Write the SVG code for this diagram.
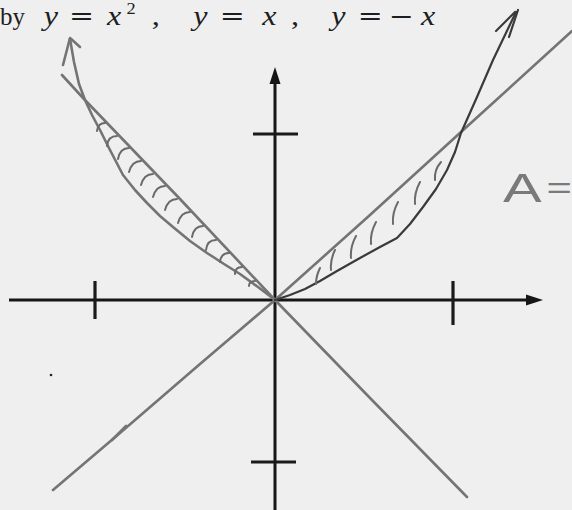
<svg xmlns="http://www.w3.org/2000/svg" width="572" height="510" viewBox="0 0 572 510">
  <style>
    .title { font-family: "Liberation Serif", "Times New Roman", serif; font-size: 28px; fill: #1e1e1e; }
    .by { font-family: "Liberation Serif", "Times New Roman", serif; font-size: 25px; fill: #1e1e1e; }
    .it { font-style: italic; }
    .op { font-family: "DejaVu Serif", serif; font-size: 26px; }
    .axis { stroke: #161616; stroke-width: 3; fill: none; stroke-linecap: butt; }
    .tick { stroke: #1a1a1a; stroke-width: 3.2; fill: none; }
    .curve { stroke: #747474; stroke-width: 2.6; fill: none; stroke-linecap: round; stroke-linejoin: round; }
    .dark { stroke: #3a3a3a; stroke-width: 2.2; }
    .hatch { stroke: #6a6a6a; stroke-width: 2; fill: none; stroke-linecap: round; }
    .hand { font-family: "Liberation Sans", Arial, sans-serif; font-size: 40px; fill: #7a7a7a; }
  </style>
  <rect x="0" y="0" width="572" height="510" fill="#efefef"/>

  <g id="title">
    <text class="by" x="0" y="25">by</text>
    <text class="title" transform="translate(0,25) scale(1.15,1)"><tspan class="it" x="38">y</tspan><tspan class="op" x="60">=</tspan><tspan class="it" x="93">x</tspan><tspan x="110" y="-11" font-size="16">2</tspan><tspan x="132" y="0">,</tspan><tspan class="it" x="168">y</tspan><tspan class="op" x="191">=</tspan><tspan class="it" x="228">x</tspan><tspan x="253">,</tspan><tspan class="it" x="288">y</tspan><tspan class="op" x="311">=</tspan><tspan class="op" x="338">−</tspan><tspan class="it" x="366">x</tspan></text>
  </g>

  <g id="axes">
    <line class="axis" x1="9" y1="300" x2="530" y2="300"/>
    <polygon points="543,300 526,294.5 526,305.5" fill="#161616"/>
    <line class="axis" x1="275" y1="80" x2="275" y2="510"/>
    <polygon points="275,67 269.5,84 280.5,84" fill="#161616"/>
    <line class="tick" x1="95" y1="281" x2="95" y2="319"/>
    <line class="tick" x1="453" y1="281" x2="453" y2="325"/>
    <line class="tick" x1="253" y1="134" x2="298" y2="134"/>
    <line class="tick" x1="251" y1="462" x2="296" y2="462"/>
  </g>

  <g id="connectors">
    <!-- y = x -->
    <polyline id="line-y-eq-x" class="curve" points="53,490 120,433 200,364 275,300 370,215 461,132 572,31"/>
    <path class="curve" d="M112,440 L126,426" stroke-width="1.8"/>
    <!-- y = -x -->
    <polyline id="line-y-eq-neg-x" class="curve" points="62,75 84,99 180,199 275,300 370,398 467,497"/>
    <!-- y = x^2 left branch -->
    <polyline id="parabola-left" class="curve" points="70,39 74,62 79,84 85,100 92,115 100,130 110,150 123,175 135,190 147,203 160,216 173,227 190,241 207,253 224,264 240,274 258,287 275,300"/>
    <path class="curve" d="M63,65 L70,38 L80,47"/>
    <!-- y = x^2 right branch -->
    <polyline id="parabola-right" class="curve dark" points="275,300 290,295 305,289 320,281 337,271 360,258 380,247 397,238 410,224 423,207 436,189 447,170 455,152 461,133 477,97 493,60 505,35 516,12"/>
    <path class="curve dark" d="M496,31 L515,12 M509,37 L518,10"/>
  </g>

  <g id="hatching">
    <path class="hatch" d="M105,123 Q98,123 97,131"/>
    <path class="hatch" d="M117,136 Q108,136 107,146"/>
    <path class="hatch" d="M129,148 Q120,148 118,159"/>
    <path class="hatch" d="M141,161 Q132,161 129,172"/>
    <path class="hatch" d="M153,174 Q144,174 141,185"/>
    <path class="hatch" d="M165,186 Q156,186 153,197"/>
    <path class="hatch" d="M177,199 Q168,199 165,210"/>
    <path class="hatch" d="M190,212 Q181,212 178,223"/>
    <path class="hatch" d="M203,226 Q194,226 192,237"/>
    <path class="hatch" d="M216,240 Q207,240 206,250"/>
    <path class="hatch" d="M229,253 Q221,253 220,262"/>
    <path class="hatch" d="M242,267 Q235,267 235,274"/>
    <path class="hatch" d="M255,281 Q249,281 249,286"/>

    <path class="hatch" d="M316,284 Q316,276 320,268"/>
    <path class="hatch" d="M331,270 Q330,260 335,250"/>
    <path class="hatch" d="M351,258 Q350,247 356,236"/>
    <path class="hatch" d="M371,244 Q370,233 376,222"/>
    <path class="hatch" d="M393,224 Q392,213 398,202"/>
    <path class="hatch" d="M415,204 Q414,193 420,182"/>
    <path class="hatch" d="M435,180 Q434,170 441,162"/>
  </g>

  <g id="label">
    <text class="hand" transform="translate(503,202) scale(1.45,1)"><tspan x="0">A</tspan><tspan x="30" y="-4" font-size="30">=</tspan></text>
  </g>

  <circle cx="51" cy="375" r="1.3" fill="#222"/>
</svg>
